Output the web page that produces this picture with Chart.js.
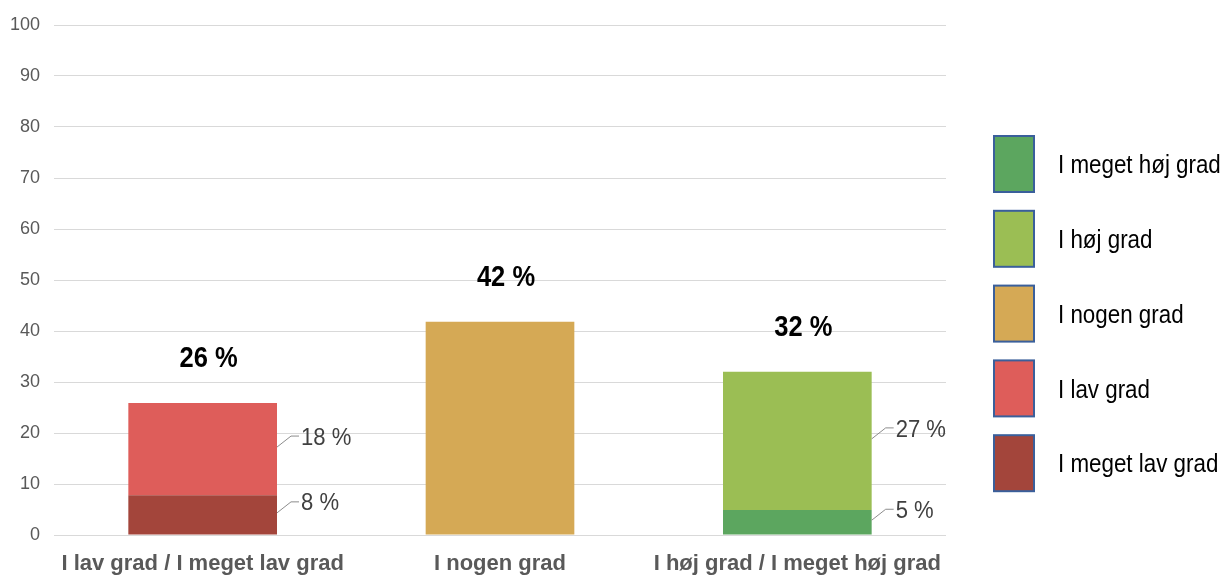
<!DOCTYPE html>
<html>
<head>
<meta charset="utf-8">
<script src="https://cdn.jsdelivr.net/npm/chart.js@4"></script>
<style>
    html, body { margin: 0; padding: 0; background: #ffffff; }
    #wrap { width: 1224px; height: 575px; }
</style>
</head>
<body>
<div id="wrap"><canvas id="Bar_Chart"></canvas></div>
<script>
const categories = ['I lav grad / I meget lav grad', 'I nogen grad', 'I høj grad / I meget høj grad'];
const megetLav = [7.8, null, null];
const lav = [18.1, null, null];
const nogen = [null, 41.8, null];
const megetHoj = [null, null, 4.9];
const hoj = [null, null, 27.1];
const yTicks = [0, 10, 20, 30, 40, 50, 60, 70, 80, 90, 100];
const legendOrder = ['I meget høj grad', 'I høj grad', 'I nogen grad', 'I lav grad', 'I meget lav grad'];

const FONT = "'Liberation Sans', Arial, sans-serif";

// no narrow font installed, so squeeze the text a bit horizontally
function narrowText(ctx, text, x, y, font, color, align, squeeze) {
    ctx.save();
    ctx.font = font;
    ctx.fillStyle = color;
    ctx.textAlign = align;
    ctx.textBaseline = 'middle';
    ctx.translate(x, y);
    ctx.scale(squeeze, 1);
    ctx.fillText(text, 0, 0);
    ctx.restore();
}

// side labels with a small leader line, for the split bars
const sideLabels = {
    id: 'sideLabels',
    afterDatasetsDraw(chart) {
        const ctx = chart.ctx;
        ctx.save();
        chart.data.datasets.forEach((ds, i) => {
            if (!ds.sideLabel) return;
            chart.getDatasetMeta(i).data.forEach((bar, j) => {
                const v = ds.data[j];
                if (v == null) return;
                const right = bar.x + bar.width / 2;
                const cy = (bar.y + bar.base) / 2;
                ctx.strokeStyle = '#8c8c8c';
                ctx.lineWidth = 1;
                ctx.beginPath();
                ctx.moveTo(right, cy - 2);
                ctx.lineTo(right + 14, cy - 13);
                ctx.lineTo(right + 22, cy - 13);
                ctx.stroke();
                narrowText(ctx, Math.round(v) + ' %', right + 24, cy - 11, '24px ' + FONT, '#404040', 'left', 0.92);
            });
        });

        // totals above each bar
        const yScale = chart.scales.y;
        const xScale = chart.scales.x;
        categories.forEach((c, j) => {
            let total = 0;
            chart.data.datasets.forEach(ds => { total += ds.data[j] || 0; });
            narrowText(ctx, Math.round(total) + ' %', xScale.getPixelForValue(j) + 6,
                yScale.getPixelForValue(total) - 44, 'bold 29px ' + FONT, '#000000', 'center', 0.88);
        });
        ctx.restore();
    }
};

// legend drawn on the right side
const sideLegend = {
    id: 'sideLegend',
    afterDraw(chart) {
        const ctx = chart.ctx;
        ctx.save();
        legendOrder.forEach((name, k) => {
            const ds = chart.data.datasets.find(d => d.label === name);
            const top = 136 + k * 74.8;
            ctx.fillStyle = ds.backgroundColor;
            ctx.fillRect(994, top, 40, 56);
            ctx.strokeStyle = '#3a5f9b';
            ctx.lineWidth = 2;
            ctx.strokeRect(994, top, 40, 56);
            narrowText(ctx, name, 1058, top + 30, '26px ' + FONT, '#000000', 'left', 0.86);
        });
        ctx.restore();
    }
};

const ctx = document.getElementById('Bar_Chart').getContext('2d');
new Chart(ctx, {
    type: 'bar',
    data: {
        labels: categories,
        datasets: [
            { label: 'I meget lav grad', data: megetLav, backgroundColor: '#a3453b', sideLabel: true },
            { label: 'I lav grad', data: lav, backgroundColor: '#de5d5a', sideLabel: true },
            { label: 'I nogen grad', data: nogen, backgroundColor: '#d5a955', sideLabel: false },
            { label: 'I meget høj grad', data: megetHoj, backgroundColor: '#5ca65f', sideLabel: true },
            { label: 'I høj grad', data: hoj, backgroundColor: '#9bbe54', sideLabel: true }
        ]
    },
    plugins: [sideLabels, sideLegend],
    options: {
        responsive: true,
        maintainAspectRatio: false,
        animation: false,
        layout: { padding: { top: 25, right: 278, left: 0, bottom: 0 } },
        datasets: { bar: { barPercentage: 0.5, categoryPercentage: 1 } },
        plugins: {
            legend: { display: false },
            tooltip: { enabled: false }
        },
        scales: {
            x: {
                stacked: true,
                grid: { display: false },
                border: { display: false },
                ticks: {
                    color: '#595959',
                    padding: 8,
                    maxRotation: 0,
                    autoSkip: false,
                    font: { family: FONT, size: 22, weight: 'bold' }
                },
                afterFit(scale) { scale.height = 40; }
            },
            y: {
                stacked: true,
                min: 0,
                max: 100,
                afterBuildTicks(scale) { scale.ticks = yTicks.map(v => ({ value: v })); },
                grid: { color: '#d9d9d9', lineWidth: 1, drawTicks: false },
                border: { display: false },
                ticks: {
                    color: '#595959',
                    padding: 14,
                    font: { family: FONT, size: 18 }
                },
                afterFit(scale) { scale.width = 54; }
            }
        }
    }
});
</script>
</body>
</html>
